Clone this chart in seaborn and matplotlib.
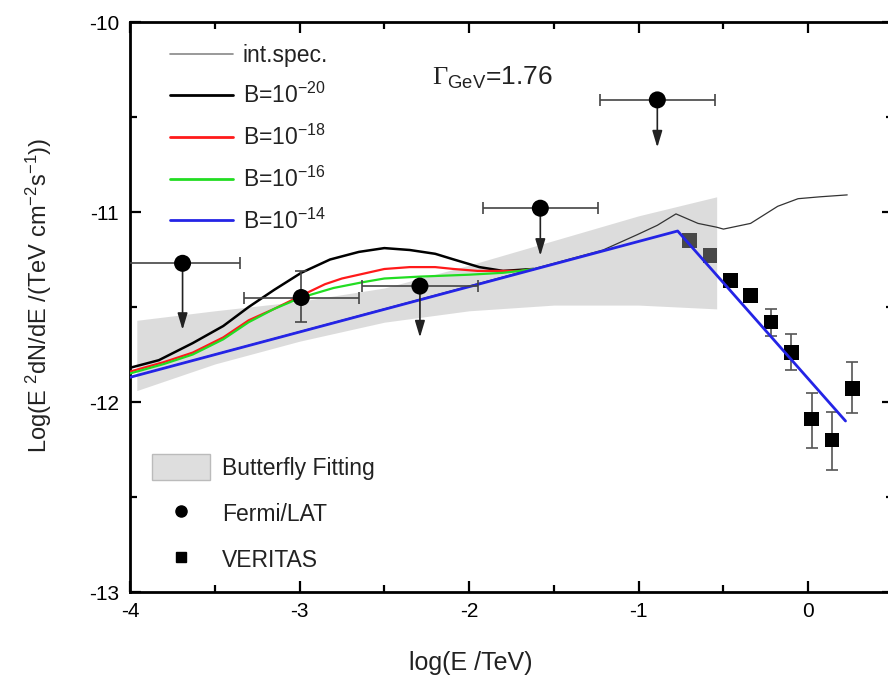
import numpy as np
import matplotlib
matplotlib.use("Agg")
import matplotlib.pyplot as plt
from matplotlib.lines import Line2D
from matplotlib.patches import Patch
import seaborn as sns

sns.set_style("ticks")
plt.rcParams["font.family"] = ["Liberation Sans", "DejaVu Sans"]
plt.rcParams["mathtext.fontset"] = "custom"
plt.rcParams["mathtext.rm"] = "Liberation Serif"
plt.rcParams["mathtext.default"] = "regular"
plt.rcParams["axes.unicode_minus"] = False

# Fermi/LAT points (log E, log E^2 dN/dE)
fermi_x = [-3.69, -2.99, -2.29, -1.58, -0.89]
fermi_y = [-11.27, -11.45, -11.39, -10.98, -10.41]
fermi_xerr = [0.34, 0.34, 0.34, 0.34, 0.34]
fermi_ul = [True, False, True, True, True]
fermi_ul_len = [0.35, 0.0, 0.27, 0.25, 0.25]
fermi_yerr_lo = [0.0, 0.13, 0.0, 0.0, 0.0]
fermi_yerr_hi = [0.0, 0.14, 0.0, 0.0, 0.0]

# VERITAS points
ver_x = [-0.70, -0.58, -0.46, -0.34, -0.22, -0.10, 0.02, 0.14, 0.26]
ver_y = [-11.15, -11.23, -11.36, -11.44, -11.58, -11.74, -12.09, -12.20, -11.93]
ver_err_lo = [0.03, 0.03, 0.03, 0.03, 0.07, 0.09, 0.15, 0.16, 0.13]
ver_err_hi = [0.03, 0.03, 0.03, 0.03, 0.07, 0.10, 0.14, 0.15, 0.14]

# butterfly fitting band
bf_x = [-3.96, -3.5, -3.0, -2.5, -2.0, -1.5, -1.0, -0.54]
bf_hi = [-11.57, -11.52, -11.47, -11.40, -11.28, -11.15, -11.02, -10.92]
bf_lo = [-11.94, -11.80, -11.68, -11.58, -11.52, -11.49, -11.49, -11.51]

# model curves
b14_x = [-4.0, -0.77, 0.22]
b14_y = [-11.87, -11.10, -12.10]

b20_x = [-4.0, -3.83, -3.63, -3.45, -3.30, -3.15, -2.99, -2.82, -2.65, -2.50,
         -2.35, -2.20, -2.09, -1.94, -1.80, -1.62]
b20_y = [-11.82, -11.78, -11.69, -11.60, -11.50, -11.41, -11.32, -11.25, -11.21, -11.19,
         -11.20, -11.22, -11.25, -11.29, -11.31, -11.30]

b18_x = [-4.0, -3.8, -3.63, -3.45, -3.30, -3.15, -2.99, -2.85, -2.75, -2.60,
         -2.50, -2.35, -2.20, -2.09, -1.95, -1.83, -1.70, -1.62]
b18_y = [-11.84, -11.79, -11.74, -11.66, -11.57, -11.51, -11.44, -11.38, -11.35, -11.32,
         -11.30, -11.29, -11.29, -11.30, -11.31, -11.31, -11.31, -11.30]

b16_x = [-4.0, -3.8, -3.63, -3.45, -3.30, -3.15, -2.99, -2.80, -2.63, -2.50,
         -2.29, -2.00, -1.80, -1.70, -1.62]
b16_y = [-11.85, -11.80, -11.75, -11.67, -11.58, -11.51, -11.45, -11.40, -11.37, -11.35,
         -11.34, -11.33, -11.32, -11.31, -11.30]

int_x = [-4.0, -1.5, -1.21, -1.01, -0.89, -0.78, -0.65, -0.54, -0.50, -0.34,
         -0.18, -0.06, 0.07, 0.23]
int_y = [-11.87, -11.27, -11.20, -11.12, -11.07, -11.01, -11.06, -11.08, -11.09, -11.06,
         -10.97, -10.93, -10.92, -10.91]

fig = plt.figure(figsize=(8.88, 6.80), dpi=100)
ax = fig.add_axes([130 / 888, 88 / 680, 763 / 888, 570 / 680])

# VERITAS squares sit below the band (they look grey inside it)
ax.errorbar(ver_x, ver_y, yerr=[ver_err_lo, ver_err_hi], fmt="none",
            ecolor="#555555", elinewidth=1.2, capsize=4.5, capthick=1.2, zorder=2)
sns.scatterplot(x=ver_x, y=ver_y, marker="s", s=110, color="black",
                edgecolor="none", ax=ax, zorder=2, legend=False)

ax.fill_between(bf_x, bf_lo, bf_hi, color="#adadad", alpha=0.42, lw=0, zorder=3)

sns.lineplot(x=int_x, y=int_y, color="#333333", lw=0.9, ax=ax, sort=False,
             estimator=None, zorder=4)
sns.lineplot(x=b20_x, y=b20_y, color="black", lw=1.8, ax=ax, sort=False,
             estimator=None, zorder=5)
sns.lineplot(x=b18_x, y=b18_y, color="#ff1a1a", lw=1.6, ax=ax, sort=False,
             estimator=None, zorder=5)
sns.lineplot(x=b16_x, y=b16_y, color="#22dd22", lw=1.6, ax=ax, sort=False,
             estimator=None, zorder=5)
sns.lineplot(x=b14_x, y=b14_y, color="#2424e6", lw=2.0, ax=ax, sort=False,
             estimator=None, zorder=6)

# Fermi points with error bars and upper-limit arrows
ax.errorbar(fermi_x, fermi_y, xerr=fermi_xerr, yerr=[fermi_yerr_lo, fermi_yerr_hi],
            fmt="none", ecolor="#444444", elinewidth=1.2, capsize=4, capthick=1.2,
            zorder=7)
for x, y, ul, ln in zip(fermi_x, fermi_y, fermi_ul, fermi_ul_len):
    if ul:
        ax.annotate("", xy=(x, y - ln), xytext=(x, y),
                    arrowprops=dict(arrowstyle="-|>,head_length=1.0,head_width=0.3",
                                    color="#222222", lw=1.2, shrinkA=0, shrinkB=0),
                    zorder=7)
sns.scatterplot(x=fermi_x, y=fermi_y, marker="o", s=150, color="black",
                edgecolor="none", ax=ax, zorder=8, legend=False)

ax.set_xlim(-4, 0.5)
ax.set_ylim(-13, -10)
ax.set_xticks([-4, -3, -2, -1, 0])
ax.set_xticks(np.arange(-3.5, 0.5, 1.0), minor=True)
ax.set_yticks([-13, -12, -11, -10])
ax.set_yticks([-12.5, -11.5, -10.5], minor=True)
ax.tick_params(which="both", direction="in", top=True, right=True, width=1.6,
               labelsize=15, colors="black")
ax.tick_params(which="major", length=8)
ax.tick_params(which="minor", length=5)
ax.tick_params(axis="x", pad=7)
ax.tick_params(axis="y", pad=8)
for sp in ax.spines.values():
    sp.set_linewidth(2.0)
    sp.set_color("black")

ax.set_xlabel("log(E /TeV)", fontsize=18, color="#222222")
ax.xaxis.set_label_coords(0.446, -0.104)
ax.set_ylabel("Log(E $^{2}$dN/dE /(TeV cm$^{-2}$s$^{-1}$))", fontsize=17,
              color="#222222")
ax.yaxis.set_label_coords(-0.10, 0.52)

ax.text(-2.22, -10.33, r"$\mathrm{\Gamma}_{GeV}$=1.76", fontsize=19, color="#222222",
        va="baseline", ha="left")

h1 = [Line2D([], [], color="#888888", lw=1.2),
      Line2D([], [], color="black", lw=2),
      Line2D([], [], color="#ff1a1a", lw=2),
      Line2D([], [], color="#22dd22", lw=2),
      Line2D([], [], color="#2424e6", lw=2)]
l1 = ["int.spec.", "B=10$^{-20}$", "B=10$^{-18}$", "B=10$^{-16}$", "B=10$^{-14}$"]
leg1 = ax.legend(h1, l1, loc="upper left", bbox_to_anchor=(0.052, 0.962),
                 frameon=False, fontsize=16.5, handlelength=2.75, handletextpad=0.44,
                 labelspacing=0.72, borderpad=0, borderaxespad=0)
for t in leg1.get_texts():
    t.set_color("#222222")
ax.add_artist(leg1)

h2 = [Patch(facecolor="#dedede", edgecolor="#bbbbbb", lw=1),
      Line2D([], [], marker="o", ls="none", color="black", markersize=8),
      Line2D([], [], marker="s", ls="none", color="black", markersize=7.5)]
l2 = ["Butterfly Fitting", "Fermi/LAT", "VERITAS"]
leg2 = ax.legend(h2, l2, loc="lower left", bbox_to_anchor=(0.029, 0.034),
                 frameon=False, fontsize=16.5, handlelength=2.53, handleheight=1.35,
                 handletextpad=0.52, labelspacing=0.9, borderpad=0, borderaxespad=0)
for t in leg2.get_texts():
    t.set_color("#222222")

fig.savefig("out.png", dpi=100)
